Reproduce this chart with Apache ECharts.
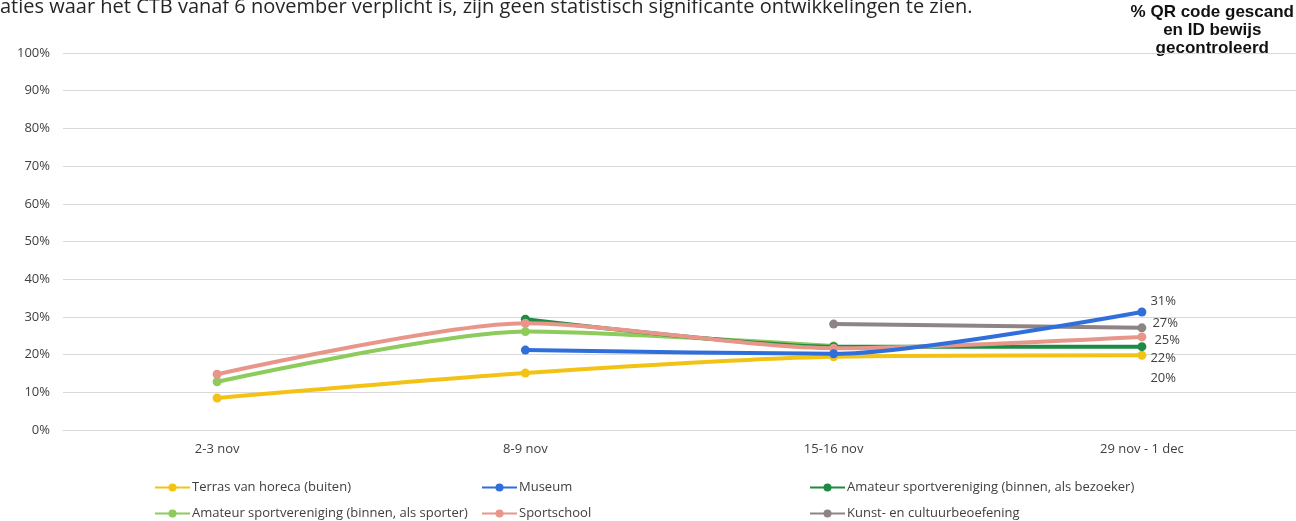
<!DOCTYPE html>
<html><head><meta charset="utf-8">
<script src="https://cdn.jsdelivr.net/npm/echarts@6/dist/echarts.min.js"></script>
<style>html,body{margin:0;padding:0;background:#fff}#c{width:1296px;height:521px}</style>
</head><body><div id="c"></div>
<script>
const categories = ['2-3 nov', '8-9 nov', '15-16 nov', '29 nov - 1 dec'];
const yTicks = ['0%','10%','20%','30%','40%','50%','60%','70%','80%','90%','100%'];
const terras   = [8.5, 15.1, 19.4, 19.8];
const museum   = [null, 21.2, 20.2, 31.3];
const bezoeker = [null, 29.4, 22.1, 22.1];
const sporter  = [12.8, 26.1, 22.3, null];
const sportschool = [14.8, 28.3, 21.7, 24.7];
const kunst    = [null, null, 28.1, 27.1];
const names = ['Terras van horeca (buiten)', 'Museum', 'Amateur sportvereniging (binnen, als bezoeker)',
  'Amateur sportvereniging (binnen, als sporter)', 'Sportschool', 'Kunst- en cultuurbeoefening'];
const titleText = 'aties waar het CTB vanaf 6 november verplicht is, zijn geen statistisch significante ontwikkelingen te zien.';
const boxText = '% QR code gescand\nen ID bewijs\ngecontroleerd';

const FONT = '"Open Sans", sans-serif';
const colors = ['#F2C314', '#2F6FDB', '#1E8B45', '#8CCB5C', '#E8968A', '#8E8485'];
const labelOffsets = [[0, 23], [0, -11], [0, 12], null, [4, 3], [2, -5]];

function mkData(arr, idx) {
  const last = arr.length - 1;
  return arr.map((v, i) => {
    if (i === last && v != null && labelOffsets[idx]) {
      return { value: v, label: { show: true, position: 'right', distance: 4, offset: labelOffsets[idx],
        formatter: p => Math.round(p.value) + '%', fontFamily: FONT, fontSize: 13, color: '#404040' } };
    }
    return v;
  });
}
const allData = [terras, museum, bezoeker, sporter, sportschool, kunst];
const series = allData.map((arr, i) => ({
  name: names[i], type: 'line', smooth: 0.25, data: mkData(arr, i),
  symbol: 'circle', symbolSize: 9, showSymbol: true,
  lineStyle: { width: 4, color: colors[i] }, itemStyle: { color: colors[i] },
  z: [2, 6, 3, 2, 4, 5][i]
}));

const legendPos = [[149, 476], [476, 476], [804, 476], [149, 502], [476, 502], [804, 502]];
const legends = names.map((n, i) => ({
  data: [n], left: legendPos[i][0], top: legendPos[i][1], itemWidth: 35, itemHeight: 10, itemGap: 0,
  textStyle: { fontFamily: FONT, fontSize: 13, color: '#404040', padding: [0, 0, 0, -3] }
}));

const chart = echarts.init(document.getElementById('c'), null, { renderer: 'canvas' });
chart.setOption({
  animation: false,
  color: colors,
  grid: { left: 63, right: 0, top: 53, bottom: 91, containLabel: false },
  legend: legends,
  xAxis: {
    type: 'category', data: categories, boundaryGap: true,
    axisLine: { show: true, lineStyle: { color: '#D9D9D9', width: 1 } },
    axisTick: { show: false },
    axisLabel: { color: '#404040', fontFamily: FONT, fontSize: 13, margin: 13 }
  },
  yAxis: {
    type: 'value', min: 0, max: 100, interval: 10,
    axisLabel: { formatter: v => yTicks[Math.round(v / 10)], color: '#404040', fontFamily: FONT, fontSize: 13, margin: 13 },
    splitLine: { lineStyle: { color: '#D9D9D9', width: 1 } },
    axisLine: { show: false }, axisTick: { show: false }
  },
  graphic: [
    { type: 'text', left: 0, top: -3, style: { text: titleText, font: '20px ' + FONT, fill: '#262626' } },
    { type: 'text', right: 2, top: 3, style: { text: boxText, font: 'bold 17px "Liberation Sans", Arial, sans-serif',
      fill: '#111', textAlign: 'center', lineHeight: 18 } }
  ],
  series: series
});
</script></body></html>
